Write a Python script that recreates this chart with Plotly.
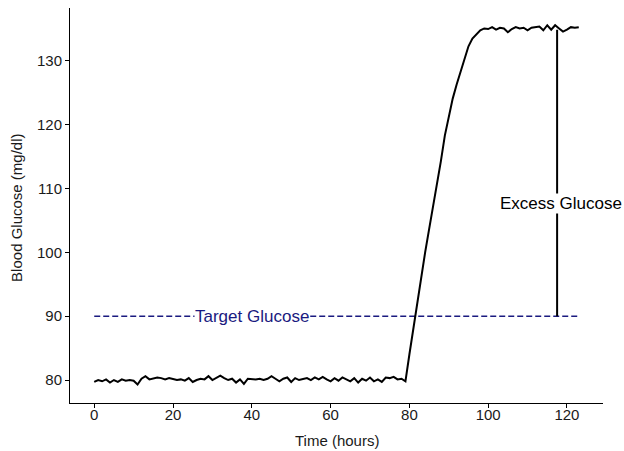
import plotly.graph_objects as go

# Blood glucose readings, one per hour
hours = list(range(0, 124))
glucose = [
    79.7, 80.0, 79.8, 80.1, 79.6, 80.0, 79.7, 80.1, 79.9, 80.0,
    79.9, 79.3, 80.2, 80.6, 80.1, 80.2, 80.4, 80.3, 80.1, 80.3,
    80.2, 80.0, 80.1, 79.9, 80.3, 79.7, 80.0, 80.2, 80.1, 80.6,
    80.0, 80.3, 80.7, 80.3, 80.0, 80.2, 79.6, 80.1, 79.4, 80.2,
    80.1, 80.1, 80.2, 80.0, 80.2, 80.6, 80.2, 79.8, 80.2, 80.4,
    79.7, 80.3, 80.0, 80.2, 80.3, 80.0, 80.4, 80.1, 80.5, 80.1,
    79.8, 80.3, 79.9, 80.4, 80.1, 79.8, 80.3, 79.6, 80.2, 79.9,
    80.4, 79.8, 80.1, 79.7, 80.4, 80.3, 80.5, 80.1, 80.2, 79.8,
    84.0, 88.2, 92.3, 96.2, 100.0, 103.6, 107.1, 110.7, 114.3, 118.3,
    121.4, 124.1, 126.3, 128.3, 130.0, 132.3, 133.5, 134.2, 134.8, 135.1,
    135.0, 135.3, 134.9, 135.2, 135.1, 134.5, 135.0, 135.3, 135.1, 135.2,
    134.8, 135.2, 135.3, 135.4, 134.8, 135.6, 134.9, 135.6, 135.1, 134.6,
    134.9, 135.3, 135.2, 135.3,
]
target_glucose = 90
target_span = [0, 123]
excess_x = 117.5
excess_top = 134.9
target_label_x = 40
excess_label_x = 118.5
excess_label_y = 107.7

font = "Liberation Sans, Arial, sans-serif"
text_color = "#1a1a1a"

fig = go.Figure()
fig.add_trace(go.Scatter(
    x=target_span, y=[target_glucose, target_glucose], mode="lines",
    line=dict(color="#1a1a80", width=1.6, dash="6px,3px"),
    hoverinfo="skip", showlegend=False))
fig.add_trace(go.Scatter(
    x=[excess_x, excess_x], y=[target_glucose, excess_top], mode="lines",
    line=dict(color="black", width=2), showlegend=False))
fig.add_trace(go.Scatter(
    x=hours, y=glucose, mode="lines",
    line=dict(color="black", width=2), showlegend=False))

fig.add_annotation(x=target_label_x, y=target_glucose, text="Target Glucose",
                   showarrow=False, bgcolor="white",
                   font=dict(family=font, size=17, color="#1a1a80"),
                   borderpad=0)
fig.add_annotation(x=excess_label_x, y=excess_label_y, text="Excess Glucose",
                   showarrow=False, bgcolor="white",
                   font=dict(family=font, size=17, color="black"),
                   borderpad=0)
# axis titles
fig.add_annotation(x=0.5, y=-0.0937, xref="paper", yref="paper",
                   text="Time (hours)", showarrow=False,
                   xanchor="center", yanchor="middle",
                   font=dict(family=font, size=15, color=text_color))
fig.add_annotation(x=-0.0994, y=0.494, xref="paper", yref="paper",
                   text="Blood Glucose (mg/dl)", showarrow=False, textangle=-90,
                   xanchor="center", yanchor="middle",
                   font=dict(family=font, size=15, color=text_color))

fig.update_layout(
    width=624, height=451,
    margin=dict(l=70, r=21, t=8, b=48),
    paper_bgcolor="white", plot_bgcolor="white",
    font=dict(family=font, size=15, color=text_color),
    showlegend=False,
)
fig.update_xaxes(
    range=[-6.15, 129.15], tickvals=[0, 20, 40, 60, 80, 100, 120],
    showline=True, linecolor="black", linewidth=1, automargin=False,
    ticks="outside", ticklen=4, tickcolor="black", showgrid=False, zeroline=False,
    ticklabelstandoff=-6,
)
fig.update_yaxes(
    range=[76.4, 138.3], tickvals=[80, 90, 100, 110, 120, 130],
    showline=True, linecolor="black", linewidth=1, automargin=False,
    ticks="outside", ticklen=4, tickcolor="black", showgrid=False, zeroline=False,
)

fig.write_html("out.html", config={"displayModeBar": False},
               post_script="document.body.style.margin='0';")
